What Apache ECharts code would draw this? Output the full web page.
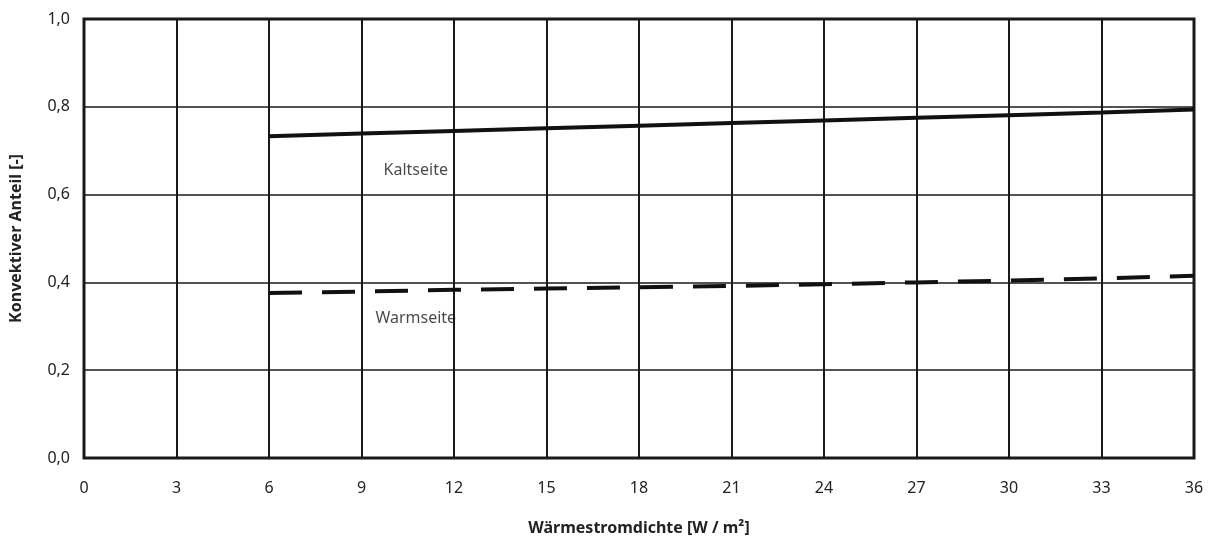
<!DOCTYPE html>
<html>
<head>
<meta charset="utf-8">
<script src="https://cdn.jsdelivr.net/npm/echarts@6/dist/echarts.min.js"></script>
<style>
  html, body { margin: 0; padding: 0; background: #fff; }
  #chart { width: 1218px; height: 541px; }
</style>
</head>
<body>
<div id="chart"></div>
<script>
// Wärmestromdichte [W/m²]
var xValues = [6, 9, 12, 15, 18, 21, 24, 27, 30, 33, 36];
var kaltseite = [0.733, 0.739, 0.745, 0.751, 0.757, 0.763, 0.769, 0.775, 0.781, 0.787, 0.794];
var warmseite = [0.376, 0.379, 0.383, 0.386, 0.389, 0.392, 0.396, 0.400, 0.404, 0.409, 0.415];
var labelNames = ['Kaltseite', 'Warmseite'];
var labelPos = [[10.76, 0.655], [10.76, 0.317]];

function pairs(xs, ys) {
    return xs.map(function (x, i) { return [x, ys[i]]; });
}

var myChart = echarts.init(document.getElementById('chart'));
var font = 'Noto Sans';
var option = {
    animation: false,
    textStyle: { fontFamily: font, color: '#222' },
    grid: {
        left: 83,
        right: 24,
        top: 19,
        bottom: 80,
        show: true,
        borderColor: '#1a1a1a',
        borderWidth: 3
    },
    xAxis: {
        type: 'value',
        min: 0,
        max: 36,
        interval: 3,
        name: 'Wärmestromdichte [W / m²]',
        nameLocation: 'middle',
        nameGap: 62,
        nameTextStyle: { fontFamily: font, fontSize: 16, fontWeight: 'bold', color: '#222' },
        axisLine: { show: false },
        axisTick: { show: false },
        axisLabel: { fontFamily: font, fontSize: 16, color: '#222', margin: 22 },
        splitLine: { lineStyle: { color: '#1a1a1a', width: 2 } }
    },
    yAxis: {
        type: 'value',
        min: 0,
        max: 1,
        interval: 0.2,
        name: 'Konvektiver Anteil [-]',
        nameLocation: 'middle',
        nameGap: 60,
        nameTextStyle: { fontFamily: font, fontSize: 16, fontWeight: 'bold', color: '#222' },
        axisLine: { show: false },
        axisTick: { show: false },
        axisLabel: {
            fontFamily: font, fontSize: 16, color: '#222', margin: 14,
            formatter: function (v) { return v.toFixed(1).replace('.', ','); }
        },
        splitLine: { lineStyle: { color: '#1a1a1a', width: 1.5 } }
    },
    series: [
        {
            name: 'Kaltseite',
            type: 'line',
            data: pairs(xValues, kaltseite),
            showSymbol: false,
            lineStyle: { color: '#111', width: 4 }
        },
        {
            name: 'Warmseite',
            type: 'line',
            data: pairs(xValues, warmseite),
            showSymbol: false,
            lineStyle: { color: '#111', width: 4, type: [33, 20] }
        },
        {
            type: 'scatter',
            silent: true,
            symbolSize: 1,
            itemStyle: { color: 'rgba(0,0,0,0)' },
            label: {
                show: true,
                position: 'inside',
                fontFamily: font,
                fontSize: 16,
                color: '#1a1a1a',
                textBorderWidth: 0,
                formatter: function (p) { return labelNames[p.dataIndex]; }
            },
            data: labelPos
        }
    ]
};
myChart.setOption(option);
</script>
</body>
</html>
